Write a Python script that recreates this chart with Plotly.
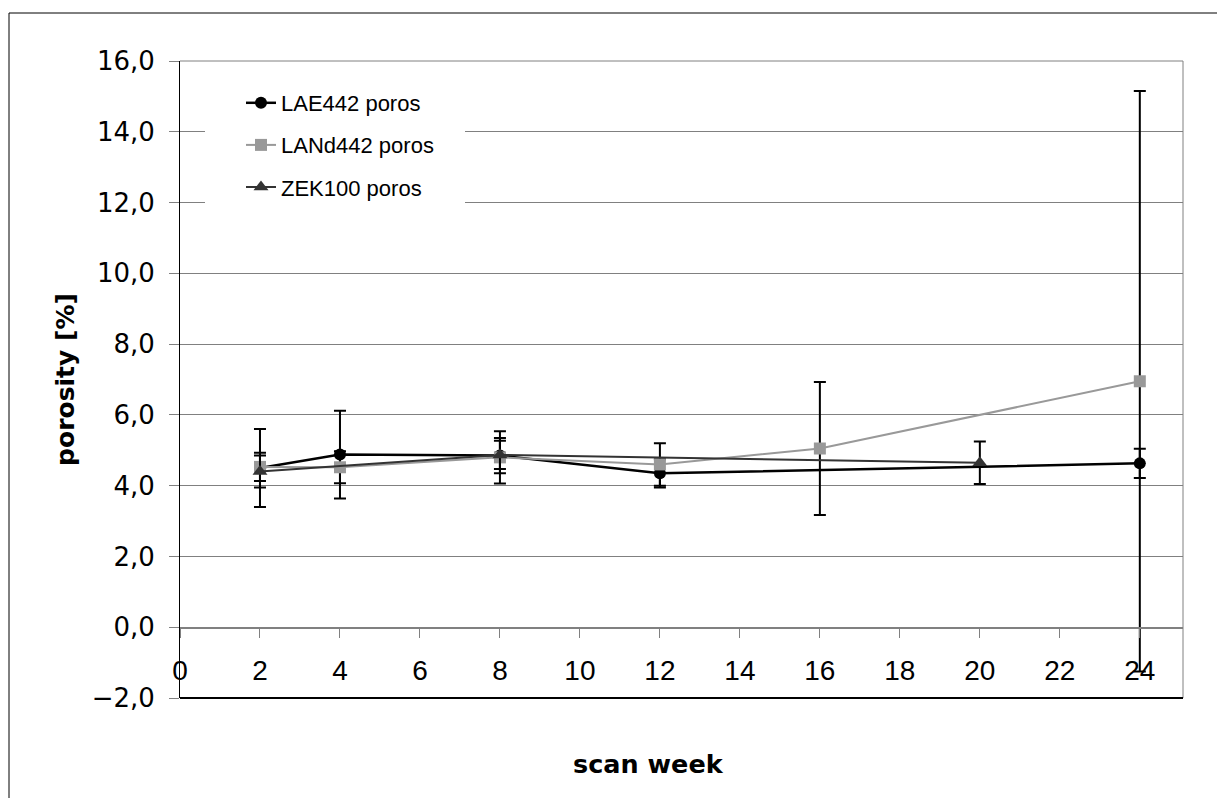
import plotly.graph_objects as go

# ---------------- data ----------------
series_names = ["LAE442 poros", "LANd442 poros", "ZEK100 poros"]

weeks_lae = [2, 4, 8, 12, 24]
lae_poros = [4.50, 4.88, 4.85, 4.35, 4.63]
lae_err = [1.10, 1.24, 0.50, 0.40, 0.41]

weeks_land = [2, 4, 8, 12, 16, 24]
land_poros = [4.53, 4.52, 4.80, 4.60, 5.05, 6.95]
land_err = [0.40, 0.45, 0.74, 0.60, 1.88, 8.20]

weeks_zek = [2, 8, 20]
zek_poros = [4.40, 4.87, 4.65]
zek_err = [0.45, 0.40, 0.60]

x_ticks = [0, 2, 4, 6, 8, 10, 12, 14, 16, 18, 20, 22, 24]
y_ticks = [-2, 0, 2, 4, 6, 8, 10, 12, 14, 16]

x_title = "scan week"
y_title = "porosity [%]"

# ---------------- layout helpers ----------------
OFF = 8                      # page body margin of the browser
W, H = 1225 - OFF, 798 - OFF
# plot area in screen pixels
SL, SR, ST, SB = 180, 1183, 61, 698
L, R, T, B = SL - OFF, SR - OFF, ST - OFF, SB - OFF


def px(x):
    """screen x pixel -> paper coordinate"""
    return (x - SL) / (SR - SL)


def py(y):
    """screen y pixel -> paper coordinate"""
    return (SB - y) / (SB - ST)


colors = ["#000000", "#999999", "#333333"]
symbols = ["circle", "square", "triangle-up"]
sizes = [12, 12, 13]
widths = [2.5, 2, 2]

xs = [weeks_lae, weeks_land, weeks_zek]
ys = [lae_poros, land_poros, zek_poros]
errs = [lae_err, land_err, zek_err]

fig = go.Figure()
for i in range(3):
    fig.add_trace(go.Scatter(
        x=xs[i], y=ys[i], name=series_names[i], mode="lines+markers",
        legendgroup=f"g{i}",
        line=dict(color=colors[i], width=widths[i]),
        marker=dict(symbol=symbols[i], size=sizes[i], color=colors[i]),
        error_y=dict(type="data", array=errs[i], visible=True,
                     color="#000000", thickness=2, width=6),
    ))

shapes = [
    # white legend background (interrupts the grid lines)
    dict(type="rect", xref="paper", yref="paper", layer="above",
         x0=px(205), x1=px(465), y0=py(212), y1=py(84),
         fillcolor="white", line=dict(width=0)),
    # plot area border
    dict(type="line", xref="paper", yref="paper", x0=1, x1=1, y0=0, y1=1,
         line=dict(color="#808080", width=1)),
    dict(type="line", xref="paper", yref="paper", x0=0, x1=1, y0=1, y1=1,
         line=dict(color="#808080", width=1)),
    dict(type="line", xref="paper", yref="paper", x0=0, x1=1, y0=0, y1=0,
         line=dict(color="#000000", width=2)),
    # outer chart border (left & top visible)
    dict(type="line", xref="paper", yref="paper", x0=px(9), x1=px(9),
         y0=py(810), y1=py(13), line=dict(color="#000000", width=1)),
    dict(type="line", xref="paper", yref="paper", x0=px(9), x1=px(1240),
         y0=py(13), y1=py(13), line=dict(color="#000000", width=1)),
]

fig.update_layout(
    width=W, height=H,
    margin=dict(l=L, r=W - R, t=T, b=H - B, autoexpand=False),
    paper_bgcolor="white", plot_bgcolor="white",
    separators=",.",
    font=dict(family="Liberation Sans", color="#000000"),
    showlegend=True,
    legend=dict(
        x=px(241), y=py(82), xanchor="left", yanchor="top",
        bgcolor="rgba(0,0,0,0)", borderwidth=0,
        font=dict(family="Liberation Sans", size=22, color="#000000"),
        traceorder="grouped", tracegroupgap=10.5,
    ),
    xaxis=dict(
        range=[0, 25.08], tickvals=x_ticks, ticks="outside", ticklen=9,
        tickcolor="#808080", tickwidth=1, showgrid=False, zeroline=False,
        showline=True, linecolor="#808080", linewidth=2,
        anchor="free", position=py(627.5),
        tickfont=dict(family="Liberation Sans", size=28, color="#000000"),
        ticklabelstandoff=9,
    ),
    yaxis=dict(
        range=[-2, 16], tickvals=y_ticks, tickformat=".1f", ticks="outside",
        ticklen=10, tickcolor="#808080", tickwidth=1,
        showgrid=True, gridcolor="#808080", gridwidth=1, zeroline=False,
        showline=True, linecolor="#000000", linewidth=1,
        tickfont=dict(family="DejaVu Sans", size=26, color="#000000"),
        ticklabelstandoff=9,
        title=dict(text=y_title, standoff=9,
                   font=dict(family="DejaVu Sans", size=25, weight="bold",
                             color="#000000")),
    ),
    shapes=shapes,
    annotations=[dict(
        text=x_title, xref="paper", yref="paper", x=px(648), y=py(764),
        xanchor="center", yanchor="middle", showarrow=False,
        font=dict(family="DejaVu Sans", size=25.5, weight="bold",
                  color="#000000"),
    )],
)

fig.write_html("out.html")
